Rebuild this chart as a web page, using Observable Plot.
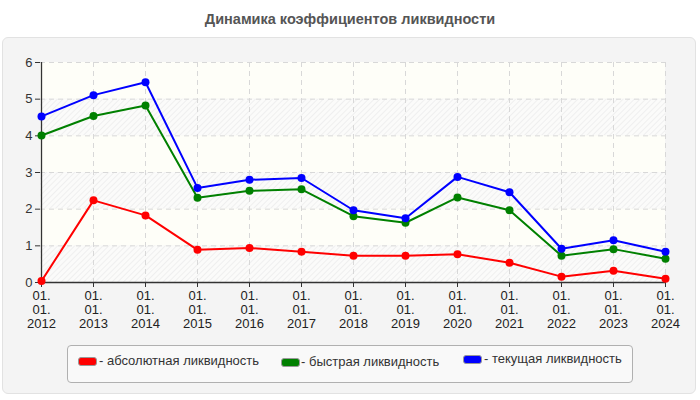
<!DOCTYPE html>
<html>
<head>
<meta charset="utf-8">
<script src="https://cdn.jsdelivr.net/npm/d3@7"></script>
<script src="https://cdn.jsdelivr.net/npm/@observablehq/plot@0.6"></script>
<style>
  html, body { margin: 0; padding: 0; background: #ffffff; }
  body { width: 700px; height: 400px; position: relative; overflow: hidden; font-family: "Liberation Sans", Arial, sans-serif; }
  #title { position: absolute; left: 0; top: 11px; width: 700px; text-align: center; font-weight: bold; font-size: 14.5px; color: #555; }
  #panel { position: absolute; left: 2px; top: 37px; width: 694px; height: 357px; background: #f4f4f4; border: 1px solid #e2e2e2; border-radius: 6px; box-sizing: border-box; }
  #chart { position: absolute; left: 0; top: 37px; }
  #legend { position: absolute; left: 67px; top: 345px; width: 566px; height: 38px; background: #f9f9f9; border: 1px solid #b0b0b0; border-radius: 4px; box-sizing: border-box; }
  .item { position: absolute; font-size: 13px; color: #333; white-space: nowrap; }
  .sw { position: absolute; width: 17px; height: 7px; border-radius: 3px; border: 1px solid #999; }
</style>
</head>
<body>
<div id="title">Динамика коэффициентов ликвидности</div>
<div id="panel"></div>
<div id="chart"></div>
<div id="legend"></div>
<script>
const years = ["2012","2013","2014","2015","2016","2017","2018","2019","2020","2021","2022","2023","2024"];
const absoluteLiq = [0.04,2.24,1.83,0.89,0.94,0.84,0.73,0.73,0.77,0.54,0.16,0.32,0.10];
const quickLiq    = [4.01,4.54,4.83,2.31,2.50,2.54,1.81,1.63,2.32,1.97,0.73,0.91,0.65];
const currentLiq  = [4.53,5.11,5.46,2.58,2.80,2.85,1.97,1.75,2.88,2.46,0.92,1.15,0.84];
const seriesNames = ["абсолютная ликвидность","быстрая ликвидность","текущая ликвидность"];
const seriesColors = ["#ff0000","#008000","#0000ff"];
const yTicks = [0,1,2,3,4,5,6];

const seriesValues = [absoluteLiq, quickLiq, currentLiq];
const rows = [];
seriesValues.forEach((vals, s) => vals.forEach((v, i) => rows.push({year: years[i], value: v, series: seriesNames[s]})));

// alternating background bands between y ticks
const bands = yTicks.slice(0, -1).map((y, i) => ({y1: y, y2: yTicks[i + 1], hatched: i % 2 === 0}));

const chart = Plot.plot({
  width: 700,
  height: 300,
  marginLeft: 40,
  marginRight: 35,
  marginTop: 25,
  marginBottom: 55,
  style: {background: "transparent", fontFamily: "'Liberation Sans', Arial, sans-serif"},
  x: {type: "point", domain: years, padding: 0},
  y: {domain: [0, 6]},
  color: {domain: seriesNames, range: seriesColors},
  marks: [
    Plot.rectY(bands.filter(b => b.hatched), {y1: "y1", y2: "y2", fill: "url(#hatch)"}),
    Plot.rectY(bands.filter(b => !b.hatched), {y1: "y1", y2: "y2", fill: "#fefef8"}),
    Plot.gridX(years, {stroke: "#d8d8d8", strokeOpacity: 1, strokeDasharray: "5,4"}),
    Plot.gridY(yTicks, {stroke: "#d8d8d8", strokeOpacity: 1, strokeDasharray: "5,4"}),
    Plot.axisY(yTicks, {tickSize: 5, tickPadding: 3, fontSize: 13, label: null, color: "#333", stroke: "#333"}),
    Plot.axisX(years, {tickSize: 5, tickPadding: 2, fontSize: 13, lineHeight: 1.1, label: null, color: "#222", stroke: "#333",
      fontFamily: "'Liberation Sans Narrow', 'Arial Narrow', sans-serif",
      tickFormat: d => `01.\n01.\n${d}`}),
    Plot.ruleX([years[0]], {stroke: "#333", strokeWidth: 1.3}),
    Plot.ruleY([0], {stroke: "#333", strokeWidth: 1.3}),
    Plot.line(rows, {x: "year", y: "value", z: "series", stroke: "series", strokeWidth: 2}),
    Plot.dot(rows, {x: "year", y: "value", fill: "series", r: 4})
  ]
});

// hatch pattern for the plot background
const svg = d3.select(chart);
const defs = svg.insert("defs", ":first-child");
const pat = defs.append("pattern").attr("id", "hatch").attr("patternUnits", "userSpaceOnUse")
  .attr("width", 4).attr("height", 4).attr("patternTransform", "rotate(45)");
pat.append("rect").attr("width", 4).attr("height", 4).attr("fill", "#fbfbfa");
pat.append("line").attr("x1", 0).attr("y1", 0).attr("x2", 0).attr("y2", 4).attr("stroke", "#e9e9e9").attr("stroke-width", 1.3);

document.getElementById("chart").appendChild(chart);

// legend
const legend = document.getElementById("legend");
const pos = [{sw: 10, tx: 31, y: 12}, {sw: 213, tx: 233, y: 13}, {sw: 395, tx: 416, y: 10}];
seriesNames.forEach((name, i) => {
  const sw = document.createElement("div");
  sw.className = "sw";
  sw.style.left = pos[i].sw + "px";
  sw.style.top = (pos[i].y - 1) + "px";
  sw.style.background = seriesColors[i];
  legend.appendChild(sw);
  const t = document.createElement("div");
  t.className = "item";
  t.style.left = pos[i].tx + "px";
  t.style.top = (pos[i].y - 5) + "px";
  t.textContent = "- " + name;
  legend.appendChild(t);
});
</script>
</body>
</html>
